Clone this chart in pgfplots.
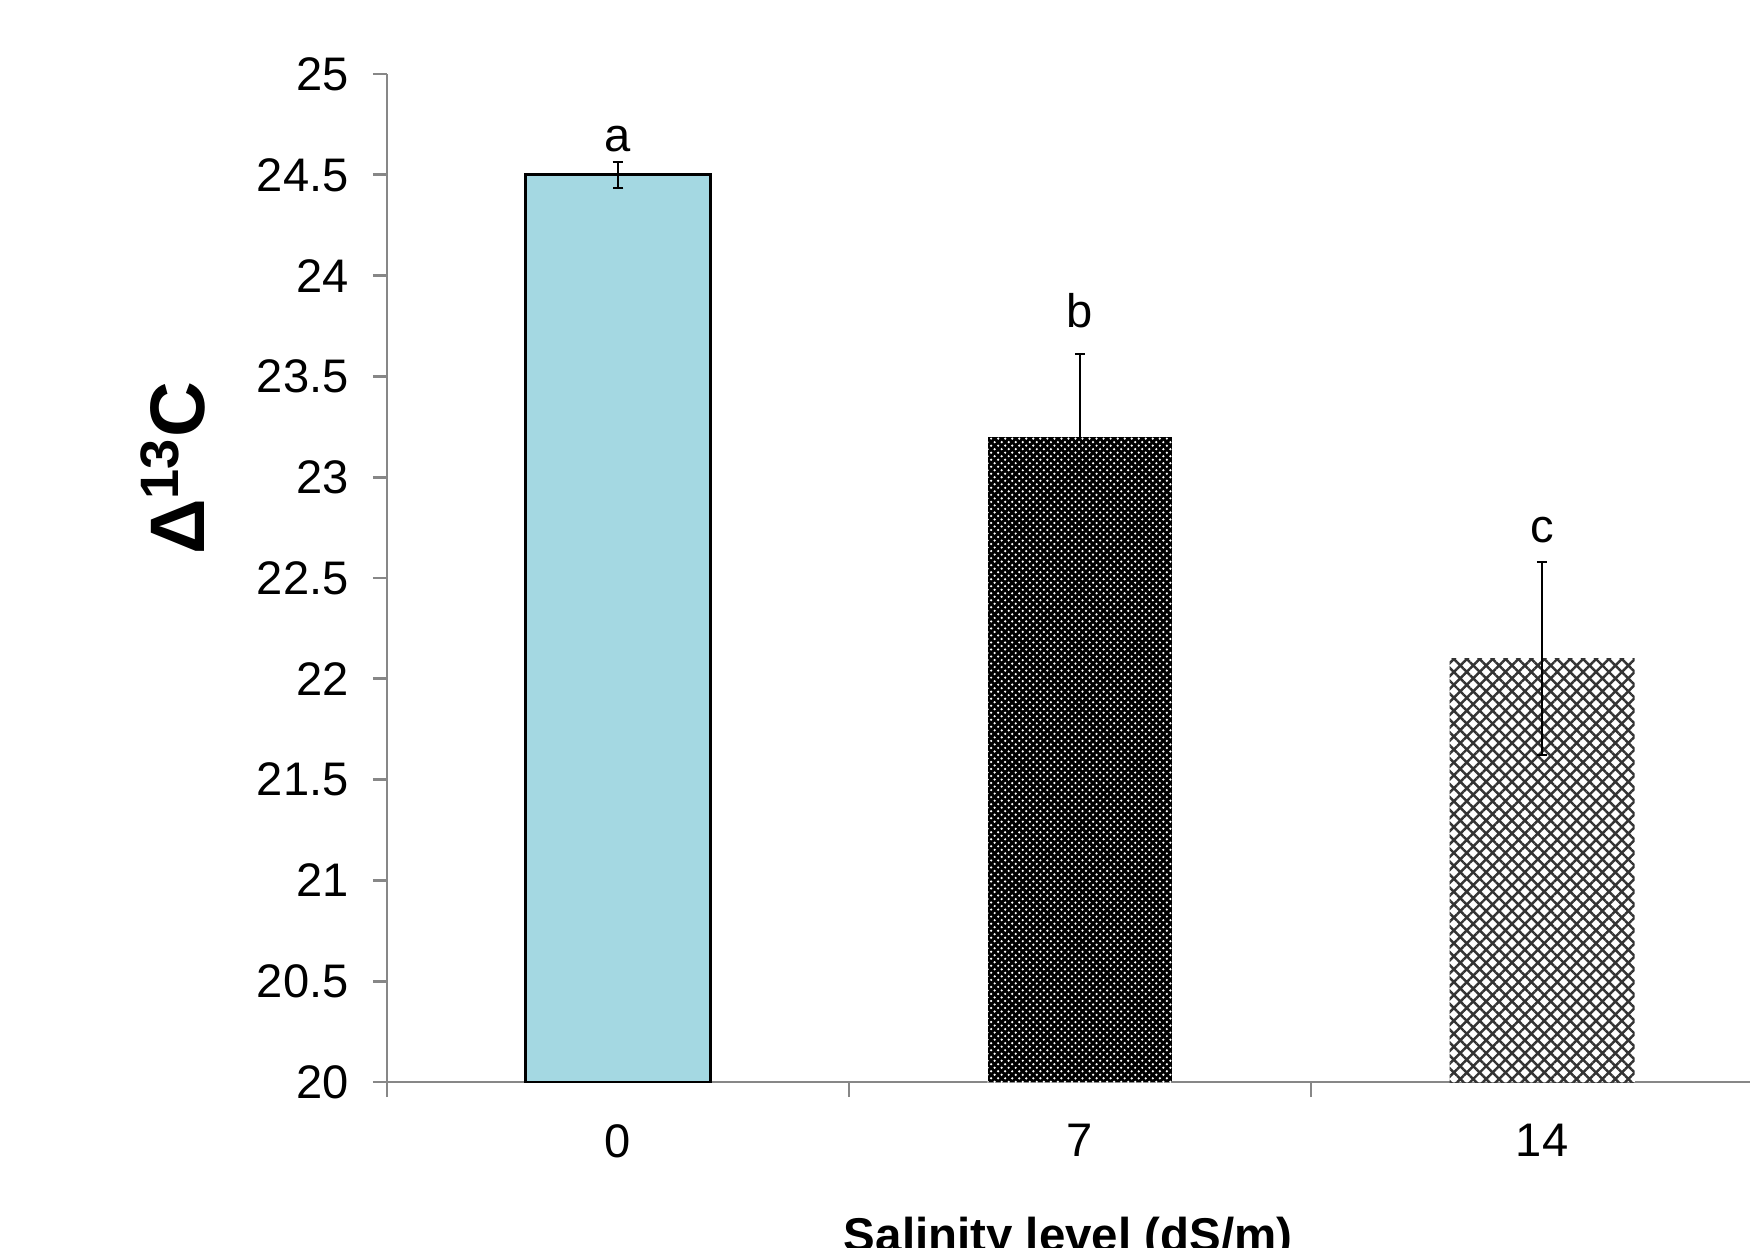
\documentclass[border=0pt]{standalone}
\usepackage{pgfplots}
\pgfplotsset{compat=1.18}
\usepackage{fontspec}
\setmainfont{Liberation Sans}
\usetikzlibrary{patterns,patterns.meta}
\definecolor{axisgray}{RGB}{135,135,135}
\definecolor{water}{RGB}{164,216,226}
\begin{document}
\begin{tikzpicture}
\path[use as bounding box] (-3.87,-1.65) rectangle (13.63,10.82);
\clip (-3.87,-1.65) rectangle (13.63,10.82);
\begin{axis}[
  width=13.63cm, height=10.08cm, scale only axis,
  xmin=-0.5, xmax=2.45, ymin=20, ymax=25,
  axis x line=bottom, axis y line=left,
  axis line style={axisgray, line width=0.8pt, -},
  tick align=outside,
  ytick={20,20.5,...,25},
  yticklabel style={/pgf/number format/assume math mode=true, /pgf/number format/fixed, font=\fontsize{13.4}{16}\selectfont, xshift=-0.12cm},
  xtick={0,1,2}, xticklabels={0,7,14},
  xticklabel style={font=\fontsize{13.4}{16}\selectfont, yshift=-0.16cm},
  major x tick style={draw=none},
  minor xtick={-0.5,0.5,1.5},
  minor tick length=0.15cm,
  major tick length=0.14cm,
  tick style={axisgray, line width=0.8pt},
  ybar, bar width=1.848cm, bar shift=0pt,
  xlabel={\textbf{Salinity level (dS/m)}},
  xlabel style={font=\fontsize{13.5}{16}\selectfont, at={(axis description cs:0.4997,0)}, anchor=base, yshift=-1.69cm},
  ylabel={\textbf{Δ\textsuperscript{13}C}},
  ylabel style={font=\fontsize{22}{26}\selectfont, at={(axis description cs:-0.157,0.609)}, anchor=center},
  error bars/error bar style={black, line width=0.6pt},
  error bars/error mark options={black, rotate=90, mark size=1.5pt, line width=0.6pt},
]
\addplot[fill=water, draw=black, line width=0.8pt,
  error bars/.cd, y dir=both, y explicit]
  coordinates {(0,24.5) +- (0,0.065)};
\addplot[fill=black, draw=none,
  postaction={pattern={Dots[radius=0.35pt, distance=2pt]}, pattern color=white},
  postaction={pattern={Dots[radius=0.35pt, distance=2pt, xshift=1pt, yshift=1pt]}, pattern color=white},
  error bars/.cd, y dir=plus, y explicit]
  coordinates {(1,23.2) +- (0,0.41)};
\addplot[fill=white, draw=none, postaction={pattern={Hatch[angle=45, distance=2.6pt, line width=0.7pt]}, pattern color=black!80},
  error bars/.cd, y dir=both, y explicit]
  coordinates {(2,22.1) +- (0,0.48)};
\node[anchor=base, font=\fontsize{13.4}{16}\selectfont] at (axis cs:0,24.614) {a};
\node[anchor=base, font=\fontsize{13.4}{16}\selectfont] at (axis cs:1,23.743) {b};
\node[anchor=base, font=\fontsize{13.4}{16}\selectfont] at (axis cs:2,22.678) {c};
\end{axis}
\end{tikzpicture}
\end{document}
